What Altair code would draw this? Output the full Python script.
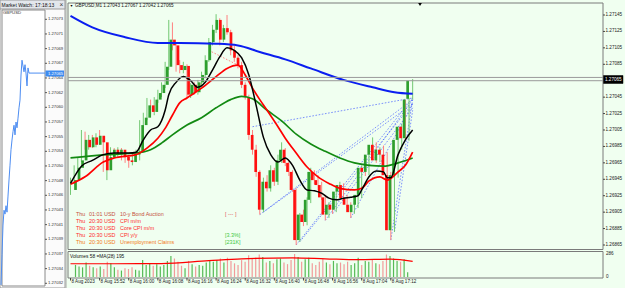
import altair as alt
import pandas as pd

# ---------------- data ----------------
symbol = "GBPUSD,M1"
clock = "17:18:13"
bars = list(range(95))  # M1 bars from 15:44 to 17:18, 8 Aug 2023

opens = [1.26932, 1.26944, 1.26959, 1.26968, 1.26993, 1.26984, 1.26996, 1.26987, 1.26998, 1.26990,
         1.26956, 1.26972, 1.26981, 1.26975, 1.26981, 1.26972, 1.26968, 1.26966, 1.26975, 1.26978,
         1.27011, 1.27020, 1.27035, 1.27027, 1.27042, 1.27050, 1.27060, 1.27082, 1.27115, 1.27108,
         1.27084, 1.27078, 1.27083, 1.27048, 1.27060, 1.27051, 1.27063, 1.27072, 1.27090, 1.27112,
         1.27127, 1.27139, 1.27115, 1.27129, 1.27124, 1.27102, 1.27093, 1.27084, 1.27060, 1.27045,
         1.26999, 1.26981, 1.26954, 1.26908, 1.26942, 1.26934, 1.26956, 1.26942, 1.26968, 1.26981,
         1.26965, 1.26954, 1.26932, 1.26871, 1.26902, 1.26893, 1.26920, 1.26954, 1.26944, 1.26938,
         1.26923, 1.26902, 1.26914, 1.26908, 1.26930, 1.26938, 1.26922, 1.26914, 1.26905, 1.26914,
         1.26926, 1.26959, 1.26954, 1.26975, 1.26987, 1.26968, 1.26981, 1.26975, 1.26950, 1.26883,
         1.26950, 1.26993, 1.27009, 1.26995, 1.27043]
highs = [1.26947, 1.26962, 1.26972, 1.27005, 1.27003, 1.26999, 1.26999, 1.27001, 1.27005, 1.26993,
         1.26975, 1.26984, 1.26983, 1.26984, 1.26983, 1.26977, 1.26975, 1.26977, 1.26981, 1.27017,
         1.27026, 1.27044, 1.27042, 1.27045, 1.27054, 1.27063, 1.27088, 1.27139, 1.27136, 1.27112,
         1.27090, 1.27088, 1.27085, 1.27062, 1.27063, 1.27066, 1.27076, 1.27096, 1.27117, 1.27133,
         1.27146, 1.27141, 1.27133, 1.27145, 1.27127, 1.27108, 1.27096, 1.27088, 1.27063, 1.27048,
         1.27005, 1.26987, 1.26956, 1.26947, 1.26950, 1.26962, 1.26959, 1.26975, 1.26990, 1.26983,
         1.26968, 1.26956, 1.26934, 1.26904, 1.26908, 1.26923, 1.26959, 1.26956, 1.26950, 1.26942,
         1.26926, 1.26917, 1.26920, 1.26934, 1.26942, 1.26940, 1.26926, 1.26917, 1.26916, 1.26930,
         1.26962, 1.26964, 1.26978, 1.26996, 1.26990, 1.26984, 1.26986, 1.26978, 1.26954, 1.26954,
         1.26996, 1.27012, 1.27042, 1.27044, 1.27067]
lows = [1.26926, 1.26940, 1.26954, 1.26966, 1.26981, 1.26981, 1.26983, 1.26984, 1.26987, 1.26954,
        1.26944, 1.26968, 1.26971, 1.26972, 1.26968, 1.26965, 1.26959, 1.26962, 1.26971, 1.26968,
        1.27005, 1.27017, 1.27023, 1.27023, 1.27038, 1.27045, 1.27056, 1.27078, 1.27102, 1.27076,
        1.27074, 1.27074, 1.27044, 1.27044, 1.27048, 1.27048, 1.27060, 1.27068, 1.27088, 1.27108,
        1.27123, 1.27108, 1.27112, 1.27121, 1.27096, 1.27088, 1.27080, 1.27056, 1.27042, 1.26993,
        1.26975, 1.26948, 1.26902, 1.26905, 1.26930, 1.26930, 1.26937, 1.26938, 1.26965, 1.26961,
        1.26949, 1.26930, 1.26865, 1.26869, 1.26888, 1.26889, 1.26916, 1.26939, 1.26932, 1.26920,
        1.26895, 1.26898, 1.26903, 1.26905, 1.26926, 1.26917, 1.26910, 1.26898, 1.26903, 1.26910,
        1.26922, 1.26949, 1.26950, 1.26971, 1.26965, 1.26966, 1.26971, 1.26947, 1.26871, 1.26881,
        1.26947, 1.26981, 1.26993, 1.26992, 1.27042]
closes = [1.26944, 1.26959, 1.26968, 1.26993, 1.26984, 1.26996, 1.26987, 1.26998, 1.26990, 1.26956,
          1.26972, 1.26981, 1.26975, 1.26981, 1.26972, 1.26968, 1.26966, 1.26975, 1.26978, 1.27011,
          1.27020, 1.27035, 1.27027, 1.27042, 1.27050, 1.27060, 1.27082, 1.27115, 1.27108, 1.27084,
          1.27078, 1.27083, 1.27048, 1.27060, 1.27051, 1.27063, 1.27072, 1.27090, 1.27112, 1.27127,
          1.27139, 1.27115, 1.27129, 1.27124, 1.27102, 1.27093, 1.27084, 1.27060, 1.27045, 1.26999,
          1.26981, 1.26954, 1.26908, 1.26942, 1.26934, 1.26956, 1.26942, 1.26968, 1.26981, 1.26965,
          1.26954, 1.26932, 1.26871, 1.26902, 1.26893, 1.26920, 1.26954, 1.26944, 1.26938, 1.26923,
          1.26902, 1.26914, 1.26908, 1.26930, 1.26938, 1.26922, 1.26914, 1.26905, 1.26914, 1.26926,
          1.26959, 1.26954, 1.26975, 1.26987, 1.26968, 1.26981, 1.26975, 1.26950, 1.26883, 1.26950,
          1.26993, 1.27009, 1.26995, 1.27042, 1.27065]
volumes = [150, 130, 120, 180, 140, 120, 110, 130, 100, 190,
           170, 120, 90, 80, 110, 100, 120, 90, 80, 210,
           150, 170, 140, 160, 130, 150, 200, 260, 230, 190,
           140, 110, 200, 160, 130, 150, 140, 180, 200, 190,
           210, 230, 180, 240, 200, 170, 150, 210, 190, 270,
           230, 240, 280, 250, 180, 200, 170, 220, 230, 180,
           160, 210, 286, 250, 190, 220, 240, 170, 150, 190,
           230, 180, 160, 200, 170, 180, 160, 190, 150, 170,
           240, 150, 200, 190, 210, 170, 160, 200, 280, 260,
           230, 200, 190, 220, 58]

ma_blue_bar = [0, 6, 15, 24, 30, 40, 46, 52, 59, 66, 75, 83, 89, 94]
ma_blue_val = [1.27144, 1.27130, 1.27118, 1.27111, 1.27111, 1.27110, 1.27108, 1.27100, 1.27091,
               1.27080, 1.27066, 1.27057, 1.27051, 1.27049]
ma_black_bar = [0, 3, 6, 9, 12, 16, 18, 20, 22, 24, 26, 27, 29, 31, 33, 35, 37, 39, 41, 43,
                45, 47, 49, 51, 53, 55, 57, 59, 61, 63, 65, 67, 69, 71, 73, 75, 77, 79, 80, 82,
                84, 86, 87, 88, 90, 92, 94]
ma_black_val = [1.26940, 1.26961, 1.26968, 1.26975, 1.26977, 1.26977, 1.26978, 1.26993, 1.27005, 1.27009,
                1.27029, 1.27048, 1.27063, 1.27070, 1.27065, 1.27057, 1.27063, 1.27078, 1.27094, 1.27105,
                1.27102, 1.27093, 1.27072, 1.27035, 1.26996, 1.26975, 1.26966, 1.26971, 1.26962, 1.26944,
                1.26932, 1.26931, 1.26928, 1.26922, 1.26920, 1.26922, 1.26923, 1.26925, 1.26932, 1.26948,
                1.26955, 1.26954, 1.26947, 1.26947, 1.26975, 1.26993, 1.27005]
ma_red_bar = [0, 4, 9, 12, 18, 21, 24, 26, 28, 30, 32, 36, 40, 43, 46, 48, 50, 52, 54, 57,
              59, 62, 65, 68, 71, 74, 78, 80, 82, 85, 87, 90, 92, 94]
ma_red_val = [1.26939, 1.26948, 1.26966, 1.26971, 1.26975, 1.26983, 1.26995, 1.27007, 1.27023, 1.27038,
              1.27044, 1.27056, 1.27070, 1.27080, 1.27084, 1.27072, 1.27056, 1.27042, 1.27029, 1.27009,
              1.26995, 1.26977, 1.26960, 1.26948, 1.26940, 1.26934, 1.26932, 1.26934, 1.26943, 1.26948,
              1.26944, 1.26954, 1.26962, 1.26978]
ma_green_bar = [0, 10, 18, 22, 25, 28, 32, 36, 40, 44, 47, 50, 54, 58, 62, 66, 70, 74, 78, 82, 86, 90, 94]
ma_green_val = [1.26971, 1.26975, 1.26977, 1.26981, 1.26989, 1.26999, 1.27011, 1.27020, 1.27032, 1.27042,
                1.27046, 1.27043, 1.27029, 1.27016, 1.27000, 1.26988, 1.26979, 1.26971, 1.26965, 1.26962,
                1.26961, 1.26965, 1.26971]

vol_ma_bar = [0, 12, 25, 38, 47, 61, 70, 79, 88, 94]
vol_ma_val = [165, 165, 166, 203, 226, 237, 226, 215, 222, 195]

fan_from_bar = [50, 52, 53, 62, 63, 70, 72, 77, 88, 89]
fan_from_val = [1.27009, 1.26902, 1.26905, 1.26865, 1.26869, 1.26895, 1.26903, 1.26898, 1.26871, 1.26881]
fan_to_bar = [94, 94, 94, 94, 94, 94, 94, 94, 94, 94]
fan_to_val = [1.27044, 1.27042, 1.27037, 1.27044, 1.27037, 1.27042, 1.27032, 1.27037, 1.27042, 1.27029]
red_trend_bar = [38, 46]
red_trend_val = [1.27102, 1.27084]

ask_price, bid_price = 1.27069, 1.27065
price_ticks = [1.27145, 1.27125, 1.27105, 1.27085, 1.27045, 1.27025, 1.27005, 1.26985,
               1.26965, 1.26945, 1.26925, 1.26905, 1.26885, 1.26865]
time_tick_bars = [0, 8, 16, 24, 32, 40, 48, 56, 64, 72, 80, 88]
time_tick_labels = ["8 Aug 2023", "8 Aug 15:52", "8 Aug 16:00", "8 Aug 16:08", "8 Aug 16:16",
                    "8 Aug 16:24", "8 Aug 16:32", "8 Aug 16:40", "8 Aug 16:48", "8 Aug 16:56",
                    "8 Aug 17:04", "8 Aug 17:12"]
volume_ticks = [286, 0]
volume_label = "Volumes 58  =MA(28) 195"

ev_day = ["Thu", "Thu", "Thu", "Thu", "Thu"]
ev_time = ["01:01", "20:30", "20:30", "20:30", "20:30"]
ev_cur = ["USD", "USD", "USD", "USD", "USD"]
ev_name = ["10-y Bond Auction", "CPI m/m", "Core CPI m/m", "CPI y/y", "Unemployment Claims"]
ev_value = ["[ --- ]", "", "", "[3.3%]", "[231K]"]

watch_step = list(range(30))
watch_price = [1.270317, 1.270364, 1.270410, 1.270433, 1.270427, 1.270440, 1.270430, 1.270455,
               1.270480, 1.270503, 1.270527, 1.270542, 1.270555, 1.270565, 1.270550, 1.270570,
               1.270561, 1.270576, 1.270592, 1.270604, 1.270643, 1.270666, 1.270657, 1.270648,
               1.270659, 1.270646, 1.270626, 1.270654, 1.270646, 1.270646]
watch_ticks = ["1.27073", "1.27071", "1.27069", "1.27067", "1.27064", "1.27062", "1.27060",
               "1.27057", "1.27055", "1.27053", "1.27050", "1.27048", "1.27046", "1.27043",
               "1.27041", "1.27039", "1.27037", "1.27034", "1.27032"]
watch_last = "1.27065"

# ---------------- styling / scales ----------------
FONT = "Liberation Sans"
BG = "#F0FFF0"
one = pd.DataFrame({"k": [0]})

xs = alt.Scale(domain=[0, 94], range=[70.5, 412.66], zero=False, nice=False)
ys = alt.Scale(domain=[1.26865, 1.27145], range=[245, 15], zero=False, nice=False)
vs = alt.Scale(domain=[0, 286], range=[277, 254], zero=False, nice=False)
lxs = alt.Scale(domain=[0, 29], range=[1, 30], zero=False, nice=False)
lys = alt.Scale(domain=[1.27032, 1.27073], range=[283, 19], zero=False, nice=False)


def bx(f="i"):
    return alt.X(f"{f}:Q", scale=xs, axis=None)


def py(f="p"):
    return alt.Y(f"{f}:Q", scale=ys, axis=None)


def rect(x1, x2, y1, y2, fill="#ffffff", stroke="#808080", sw=1.0, fo=1.0):
    return alt.Chart(one).mark_rect(fill=fill, fillOpacity=fo, stroke=stroke, strokeWidth=sw).encode(
        x=alt.value(x1), x2=alt.value(x2), y=alt.value(y1), y2=alt.value(y2))


def vline(x, y1, y2, color="#808080", sw=1.0):
    return alt.Chart(one).mark_rule(color=color, strokeWidth=sw).encode(
        x=alt.value(x), y=alt.value(y1), y2=alt.value(y2))


def label(text, x, y, size=5.0, color="#000000", align="left"):
    return alt.Chart(one).mark_text(text=text, align=align, baseline="middle", fontSize=size,
                                    font=FONT, color=color).encode(x=alt.value(x), y=alt.value(y))


layers = []

# ---- Market Watch panel (left) ----
layers.append(rect(0, 65, 0, 288, fill="#FBFBFB", stroke="#9A9A9A"))
layers.append(rect(0, 65, 0, 9, fill="#E3E7EC", stroke="#9A9A9A"))
layers.append(label(f"Market Watch: {clock}", 1.5, 4.7, size=5.0, color="#111111"))
layers.append(label("×", 61.5, 4.5, size=6.5, color="#333333", align="center"))
layers.append(rect(2, 45, 10, 286, fill="#FFFFFF", stroke="#8A8A8A"))
layers.append(label("GBPUSD", 3, 13, size=4.3, color="#333333"))

wdf = pd.DataFrame({"k": watch_step, "p": watch_price})
layers.append(alt.Chart(wdf).mark_line(color="#4D8DF2", strokeWidth=1).encode(
    x=alt.X("k:Q", scale=lxs, axis=None), y=alt.Y("p:Q", scale=lys, axis=None)))
wlast = pd.DataFrame({"p": [watch_price[-1]]})
layers.append(alt.Chart(wlast).mark_rule(color="#4D8DF2", strokeWidth=1).encode(
    y=alt.Y("p:Q", scale=lys, axis=None), x=alt.value(30), x2=alt.value(45)))

wtdf = pd.DataFrame({"n": list(range(len(watch_ticks))), "lab": watch_ticks})
wty = alt.Y("n:O", scale=alt.Scale(type="point", domain=list(range(len(watch_ticks))),
                                   range=[19.3, 283.3], padding=0), axis=None)
layers.append(alt.Chart(wtdf).mark_rule(color="#555555").encode(
    y=wty, x=alt.value(45), x2=alt.value(47)))
layers.append(alt.Chart(wtdf).mark_text(align="left", baseline="middle", fontSize=4.2, font=FONT,
                                        color="#333333").encode(y=wty, x=alt.value(48), text="lab:N"))
layers.append(alt.Chart(wlast).mark_rect(color="#3D8BF0").encode(
    x=alt.value(45.5), x2=alt.value(64), y=alt.value(70.5), y2=alt.value(76.5)))
layers.append(alt.Chart(wlast).mark_text(text=watch_last, align="left", baseline="middle", fontSize=4.2,
                                         font=FONT, color="#FFFFFF").encode(x=alt.value(48), y=alt.value(73.5)))
layers.append(vline(66, 0, 288, color="#A8A8A8"))

# ---- main chart frames ----
layers.append(rect(68, 603, 3, 249.5, fill=BG, stroke="#7A7A7A"))
layers.append(rect(68, 603, 251.5, 278, fill=BG, stroke="#7A7A7A"))

# ---- trend lines (dotted) ----
fdf = pd.DataFrame({"i1": fan_from_bar, "p1": fan_from_val, "i2": fan_to_bar, "p2": fan_to_val})
layers.append(alt.Chart(fdf).mark_rule(color="#3550FF", strokeWidth=0.8, strokeDash=[1.6, 1.6],
                                       opacity=0.8).encode(
    x=bx("i1"), x2="i2", y=py("p1"), y2="p2"))
rdf = pd.DataFrame({"i1": [red_trend_bar[0]], "p1": [red_trend_val[0]],
                    "i2": [red_trend_bar[1]], "p2": [red_trend_val[1]]})
layers.append(alt.Chart(rdf).mark_rule(color="#FF6A6A", strokeWidth=0.8, strokeDash=[1.6, 1.6]).encode(
    x=bx("i1"), x2="i2", y=py("p1"), y2="p2"))

# ---- candles ----
cdf = pd.DataFrame({"i": bars, "o": opens, "h": highs, "l": lows, "c": closes, "v": volumes})
cdf["dir"] = ["up" if c >= o else "down" for o, c in zip(opens, closes)]
cdf["v0"] = 0
dirs = ["up", "down"]
layers.append(alt.Chart(cdf).mark_rule(strokeWidth=1).encode(
    x=bx(), y=py("l"), y2="h",
    color=alt.Color("dir:N", scale=alt.Scale(domain=dirs, range=["#72C872", "#FF8080"]), legend=None)))
layers.append(alt.Chart(cdf).mark_bar(size=2.7).encode(
    x=bx(), y=py("o"), y2="c",
    color=alt.Color("dir:N", scale=alt.Scale(domain=dirs, range=["#2E9F2E", "#FF1010"]), legend=None)))


# ---- moving averages ----
def ma(b, v, color, w):
    d = pd.DataFrame({"i": b, "p": v})
    return alt.Chart(d).mark_line(color=color, strokeWidth=w, interpolate="monotone").encode(x=bx(), y=py())


layers.append(ma(ma_green_bar, ma_green_val, "#128A12", 1.7))
layers.append(ma(ma_red_bar, ma_red_val, "#FF0000", 1.7))
layers.append(ma(ma_black_bar, ma_black_val, "#000000", 1.5))
layers.append(ma(ma_blue_bar, ma_blue_val, "#0A1EF0", 2.0))

# ---- bid / ask lines ----
qdf = pd.DataFrame({"p": [ask_price, bid_price]})
layers.append(alt.Chart(qdf).mark_rule(color="#9A9A9A", strokeWidth=1).encode(
    y=py(), x=alt.value(68), x2=alt.value(603)))

# ---- title ----
layers.append(label("▼", 71.5, 6, size=3.5, color="#000000", align="center"))
layers.append(label(f"{symbol}  {opens[-1]:.5f} {highs[-1]:.5f} {lows[-1]:.5f} {closes[-1]:.5f}",
                    75, 6, size=4.6, color="#111111"))
layers.append(alt.Chart(one).mark_point(shape="triangle-down", filled=True, size=14, color="#000000",
                                        opacity=1).encode(x=alt.value(420), y=alt.value(4.5)))

# ---- events ----
edf = pd.DataFrame({"row": list(range(5)), "day": ev_day, "time": ev_time, "cur": ev_cur,
                    "name": ev_name, "val": ev_value})
rowy = alt.Y("row:O", scale=alt.Scale(type="point", domain=list(range(5)), range=[214, 242], padding=0),
             axis=None)
ecol = alt.Color("row:O", scale=alt.Scale(domain=list(range(5)),
                                          range=["#C45040", "#FF2828", "#FF2828", "#FF2828", "#F07A18"]),
                 legend=None)
for field, xpos in [("day", 76), ("time", 89), ("cur", 104), ("name", 120)]:
    layers.append(alt.Chart(edf).mark_text(align="left", baseline="middle", fontSize=5.4, font=FONT).encode(
        x=alt.value(xpos), y=rowy, text=f"{field}:N", color=ecol))
vcol = alt.Color("row:O", scale=alt.Scale(domain=list(range(5)),
                                          range=["#E05050", "#E05050", "#E05050", "#3CC83C", "#3CC83C"]),
                 legend=None)
layers.append(alt.Chart(edf).mark_text(align="left", baseline="middle", fontSize=5.4, font=FONT).encode(
    x=alt.value(225), y=rowy, text="val:N", color=vcol))

# ---- volume pane ----
layers.append(alt.Chart(cdf).mark_bar(size=1.2).encode(
    x=bx(), y=alt.Y("v:Q", scale=vs, axis=None), y2="v0",
    color=alt.Color("dir:N", scale=alt.Scale(domain=dirs, range=["#55BB55", "#F29A9A"]), legend=None)))
vmdf = pd.DataFrame({"i": vol_ma_bar, "v": vol_ma_val})
layers.append(alt.Chart(vmdf).mark_line(color="#FF0000", strokeWidth=1.2, interpolate="monotone").encode(
    x=bx(), y=alt.Y("v:Q", scale=vs, axis=None)))
layers.append(label(volume_label, 70, 256.5, size=4.8, color="#111111"))
vtdf = pd.DataFrame({"v": volume_ticks, "lab": [str(v) for v in volume_ticks]})
layers.append(alt.Chart(vtdf).mark_text(align="left", baseline="middle", fontSize=4.6, font=FONT,
                                        color="#222222").encode(
    y=alt.Y("v:Q", scale=vs, axis=None), x=alt.value(606), text="lab:N"))

# ---- right price axis ----
ptdf = pd.DataFrame({"p": price_ticks, "lab": [f"{p:.5f}" for p in price_ticks]})
layers.append(alt.Chart(ptdf).mark_rule(color="#444444").encode(y=py(), x=alt.value(603), x2=alt.value(605)))
layers.append(alt.Chart(ptdf).mark_text(align="left", baseline="middle", fontSize=4.6, font=FONT,
                                        color="#222222").encode(y=py(), x=alt.value(605.5), text="lab:N"))
layers.append(rect(603.5, 623, 75.5, 83.5, fill="#000000", stroke="#000000", sw=0.5))
layers.append(label(f"{bid_price:.5f}", 605, 79.5, size=4.6, color="#FFFFFF"))

# ---- time axis ----
tdf = pd.DataFrame({"i": time_tick_bars, "lab": time_tick_labels})
layers.append(alt.Chart(tdf).mark_rule(color="#444444").encode(x=bx(), y=alt.value(278), y2=alt.value(280.5)))
layers.append(alt.Chart(tdf).mark_text(align="left", baseline="middle", fontSize=4.6, font=FONT,
                                       color="#222222", dx=1).encode(x=bx(), y=alt.value(281.5), text="lab:N"))

chart = alt.layer(*layers).resolve_scale(
    x="independent", y="independent", color="independent"
).properties(
    width=625, height=288, padding=0, background=BG,
    autosize=alt.AutoSizeParams(type="none"),
).configure_view(strokeWidth=0)

chart.save("out.html", embed_options={"renderer": "svg", "actions": False})
